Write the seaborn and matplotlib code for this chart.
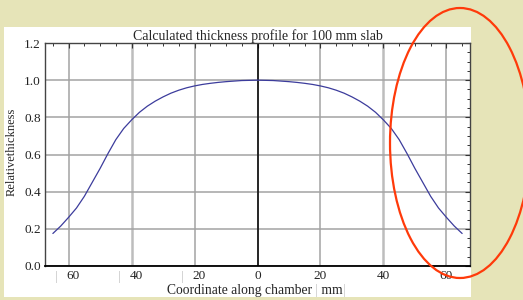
import matplotlib
matplotlib.use("Agg")
import matplotlib.pyplot as plt
import matplotlib.transforms as mtransforms
from matplotlib.patches import Ellipse, Rectangle
from matplotlib.ticker import MultipleLocator
import seaborn as sns

# profile (mm along chamber, relative thickness)
coord_mm = [-65, -62.5, -60, -57.5, -55, -52.5, -50, -47.5, -45, -42.5,
            -40, -37.5, -35, -32.5, -30, -27.5, -25, -22.5, -20, -17.5,
            -15, -12.5, -10, -7.5, -5, -2.5, 0, 2.5, 5, 7.5,
            10, 12.5, 15, 17.5, 20, 22.5, 25, 27.5, 30, 32.5,
            35, 37.5, 40, 42.5, 45, 47.5, 50, 52.5, 55, 57.5,
            60, 62.5, 65]
rel_thickness = [0.175, 0.215, 0.262, 0.312, 0.375, 0.450, 0.525, 0.605, 0.680, 0.740,
                 0.786, 0.827, 0.860, 0.887, 0.910, 0.930, 0.946, 0.959, 0.969, 0.977,
                 0.983, 0.988, 0.992, 0.995, 0.998, 0.999, 1.000, 0.999, 0.998, 0.995,
                 0.992, 0.988, 0.983, 0.977, 0.969, 0.959, 0.946, 0.930, 0.910, 0.887,
                 0.860, 0.827, 0.786, 0.740, 0.680, 0.605, 0.525, 0.450, 0.375, 0.312,
                 0.262, 0.215, 0.175]

x_ticks = [-60, -40, -20, 0, 20, 40, 60]
x_tick_labels = ["60", "40", "20", "0", "20", "40", "60"]
y_ticks = [0.0, 0.2, 0.4, 0.6, 0.8, 1.0, 1.2]
y_tick_labels = ["0.0", "0.2", "0.4", "0.6", "0.8", "1.0", "1.2"]

sns.set_style("white")
plt.rcParams['font.family'] = ['Liberation Serif', 'DejaVu Serif']

W, H = 523, 300
fig = plt.figure(figsize=(W / 100, H / 100), dpi=100, facecolor='#E6E4B8')

# white panel behind the plot
fig.add_artist(Rectangle((4 / W, 3 / H), 467 / W, 270 / H, transform=fig.transFigure,
                         facecolor='white', edgecolor='none', zorder=0))

ax = fig.add_axes([45 / W, 34 / H, 425 / W, 223 / H])
ax.set_facecolor('white')

sns.lineplot(x=coord_mm, y=rel_thickness, ax=ax, color='#3c3c9c', lw=0.9,
             estimator=None, sort=False, zorder=3)
ax.axvline(0, color='black', lw=1.1, zorder=2)

ax.set_xlim(-67.5, 67.5)
ax.set_ylim(0, 1.2)
ax.set_xticks(x_ticks)
ax.set_xticklabels(x_tick_labels)
ax.set_yticks(y_ticks)
ax.set_yticklabels(y_tick_labels)
ax.xaxis.set_minor_locator(MultipleLocator(5))
ax.yaxis.set_minor_locator(MultipleLocator(0.05))

ax.grid(True, which='major', color='#a3a3a3', lw=1.1, zorder=1)
for line, val in zip(ax.get_xgridlines(), x_ticks):
    if abs(val) == 40:
        line.set_color('#bdbdbd')
        line.set_linewidth(1.8)

ax.tick_params(which='both', direction='in', top=True, right=True, colors='#333333',
               labelcolor='#222222', labelsize=9.5, pad=3)
ax.tick_params(which='major', length=3.5, width=0.8)
ax.tick_params(which='minor', length=2, width=0.7)
for side in ['left', 'right', 'top']:
    ax.spines[side].set_color('#444444')
    ax.spines[side].set_linewidth(1.0)
ax.spines['bottom'].set_color('black')
ax.spines['bottom'].set_linewidth(1.3)

# negative ticks are printed as a grey bar plus the magnitude
shift = mtransforms.ScaledTranslation(4.5 / 100, 0, fig.dpi_scale_trans)
for lab, val in zip(ax.get_xticklabels(), x_ticks):
    if val < 0:
        lab.set_transform(lab.get_transform() + shift)
        ax.annotate("|", xy=(val, 0), xycoords=ax.get_xaxis_transform(),
                    xytext=(-8.8, -3.4), textcoords='offset points',
                    ha='center', va='top', color='#bdbdbd', fontsize=9.5)

ax.set_title("Calculated thickness profile for 100 mm slab", fontsize=10, pad=2.5)

fig.text(12 / W, 1 - 152 / H, "Relativethickness", rotation=90,
         ha='center', va='center', fontsize=9)

t1 = fig.text(167 / W, 3 / H, "Coordinate along chamber ", fontsize=9.8,
              ha='left', va='bottom')
t2 = ax.annotate("|", xy=(1, 0), xycoords=t1, ha='left', va='bottom',
                 fontsize=9.8, color='#c0c0c0', annotation_clip=False)
t3 = ax.annotate(" mm", xy=(1, 0), xycoords=t2, ha='left', va='bottom',
                 fontsize=9.8, annotation_clip=False)
ax.annotate("|", xy=(1, 0), xycoords=t3, ha='left', va='bottom',
            fontsize=9.8, color='#c0c0c0', annotation_clip=False)

# red ellipse annotation on the right
fig.add_artist(Ellipse((4.60, (H - 143) / 100), 1.40, 2.70, transform=fig.dpi_scale_trans,
                       fill=False, edgecolor='#FF3A0A', lw=1.6, clip_on=False, zorder=10))

fig.savefig("out.png", dpi=100, facecolor=fig.get_facecolor())
